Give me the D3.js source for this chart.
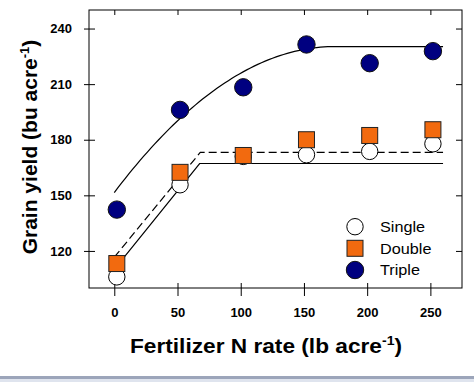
<!DOCTYPE html>
<html><head><meta charset="utf-8">
<script src="https://cdn.jsdelivr.net/npm/d3@7"></script>
<style>body{margin:0;background:#fff}svg{display:block;font-family:Arial,"Liberation Sans",sans-serif}</style>
</head><body><div id="chart"></div>
<script>
// Data
const nRates = [2, 52, 102, 152, 202, 252];
const single = [106, 155.7, 171, 171.9, 173.7, 177.8];
const double_ = [113.2, 162.4, 171.5, 180, 182.3, 185.4];
const triple = [142.3, 196.1, 208.3, 231.4, 221.3, 227.8];
const xTicks = [0, 50, 100, 150, 200, 250];
const yTicks = [120, 150, 180, 210, 240];
const legendLabels = ["Single", "Double", "Triple"];
// fitted models (intercept, slope, [quadratic], joint, end)
const singleFit = {a: 110, b: 0.847, joint: 67.5, end: 260};
const doubleFit = {a: 116.6, b: 0.832, joint: 68, end: 260};
const tripleFit = {a: 151.5, b: 0.9026, c: -0.002585, joint: 174.6, end: 260};

const W = 474, H = 382;
const m = {l: 89, t: 10, r: 462, b: 288};
const svg = d3.select("#chart").append("svg").attr("width", W).attr("height", H);

const x = d3.scaleLinear().domain([-20, 275]).range([m.l, m.r]);
const y = d3.scaleLinear().domain([100, 250]).range([m.b, m.t]);

// bottom band
svg.append("rect").attr("x", 0).attr("y", 376).attr("width", W).attr("height", 3).attr("fill", "#9ca5ba");
svg.append("rect").attr("x", 0).attr("y", 379).attr("width", W).attr("height", 3).attr("fill", "#dfe4ee");

// frame
svg.append("rect").attr("x", m.l).attr("y", m.t).attr("width", m.r - m.l).attr("height", m.b - m.t)
  .attr("fill", "none").attr("stroke", "#000").attr("stroke-width", 1);

// axes
const xAx = svg.append("g").attr("transform", `translate(0,${m.b})`)
  .call(d3.axisBottom(x).tickValues(xTicks).tickSize(8).tickPadding(11.5));
xAx.select(".domain").remove();
xAx.selectAll(".tick line").attr("y1", -5);
xAx.selectAll("text").attr("font-size", 13).attr("font-weight", "bold").attr("font-family", "Arial").attr("fill", "#000");

const yAx = svg.append("g").attr("transform", `translate(${m.l},0)`)
  .call(d3.axisLeft(y).tickValues(yTicks).tickSize(5).tickPadding(12));
yAx.select(".domain").remove();
yAx.selectAll(".tick line").attr("x1", -5).attr("x2", 6);
yAx.selectAll("text").attr("font-size", 13).attr("font-weight", "bold").attr("font-family", "Arial").attr("fill", "#000");

const xTop = svg.append("g").attr("transform", `translate(0,${m.t})`)
  .call(d3.axisTop(x).tickValues(xTicks).tickSize(-5).tickFormat(""));
xTop.select(".domain").remove();
const yRight = svg.append("g").attr("transform", `translate(${m.r},0)`)
  .call(d3.axisRight(y).tickValues(yTicks).tickSize(-6).tickFormat(""));
yRight.select(".domain").remove();

// fitted lines
function linPlat(f) {
  return [[0, f.a], [f.joint, f.a + f.b * f.joint], [f.end, f.a + f.b * f.joint]];
}
function quadPlat(f) {
  const pts = [];
  for (let i = 0; i <= 60; i++) {
    const xv = f.joint * i / 60;
    pts.push([xv, f.a + f.b * xv + f.c * xv * xv]);
  }
  const top = f.a + f.b * f.joint + f.c * f.joint * f.joint;
  pts.push([f.end, top]);
  return pts;
}
const line = d3.line().x(d => x(d[0])).y(d => y(d[1]));
svg.append("path").attr("d", line(linPlat(singleFit))).attr("fill", "none").attr("stroke", "#000").attr("stroke-width", 1.2);
svg.append("path").attr("d", line(linPlat(doubleFit))).attr("fill", "none").attr("stroke", "#000").attr("stroke-width", 1.2).attr("stroke-dasharray", "8,4");
svg.append("path").attr("d", line(quadPlat(tripleFit))).attr("fill", "none").attr("stroke", "#000").attr("stroke-width", 1.2);

// markers
const R = 8.2, S = 16;
svg.append("g").selectAll("circle").data(nRates.map((n, i) => [n, single[i]])).join("circle")
  .attr("cx", d => x(d[0])).attr("cy", d => y(d[1])).attr("r", R)
  .attr("fill", "#fff").attr("stroke", "#000").attr("stroke-width", 1);
svg.append("g").selectAll("rect").data(nRates.map((n, i) => [n, double_[i]])).join("rect")
  .attr("x", d => x(d[0]) - S / 2).attr("y", d => y(d[1]) - S / 2).attr("width", S).attr("height", S)
  .attr("fill", "#f26a0f").attr("stroke", "#222").attr("stroke-width", 1);
svg.append("g").selectAll("circle").data(nRates.map((n, i) => [n, triple[i]])).join("circle")
  .attr("cx", d => x(d[0])).attr("cy", d => y(d[1])).attr("r", R + 0.5)
  .attr("fill", "#000080").attr("stroke", "#111").attr("stroke-width", 1);

// legend
const lg = svg.append("g").attr("font-family", "Arial").attr("font-size", 14.5);
const lx = 355, ly = [226.7, 248.3, 270];
lg.append("circle").attr("cx", lx).attr("cy", ly[0]).attr("r", R).attr("fill", "#fff").attr("stroke", "#000");
lg.append("rect").attr("x", lx - S / 2).attr("y", ly[1] - S / 2).attr("width", S).attr("height", S).attr("fill", "#f26a0f").attr("stroke", "#222");
lg.append("circle").attr("cx", lx).attr("cy", ly[2]).attr("r", R + 0.5).attr("fill", "#000080").attr("stroke", "#111");
legendLabels.forEach((t, i) => {
  lg.append("g").attr("transform", `translate(380,${ly[i]}) scale(1.12,1)`)
    .append("text").attr("dy", "0.36em").text(t);
});

// axis titles
const xg = svg.append("g").attr("transform", "translate(266,353) scale(1.08,1)");
const xt = xg.append("text").attr("text-anchor", "middle")
  .attr("font-family", "Arial").attr("font-weight", "bold").attr("font-size", 21);
xt.append("tspan").text("Fertilizer N rate (lb acre");
xt.append("tspan").attr("font-size", 13).attr("dy", -8).text("-1");
xt.append("tspan").attr("dy", 8).text(")");

const yt = svg.append("text").attr("transform", "translate(37,147) rotate(-90)").attr("text-anchor", "middle")
  .attr("font-family", "Arial").attr("font-weight", "bold").attr("font-size", 21);
yt.append("tspan").text("Grain yield (bu acre");
yt.append("tspan").attr("font-size", 13).attr("dy", -8).text("-1");
yt.append("tspan").attr("dy", 8).text(")");
</script></body></html>
